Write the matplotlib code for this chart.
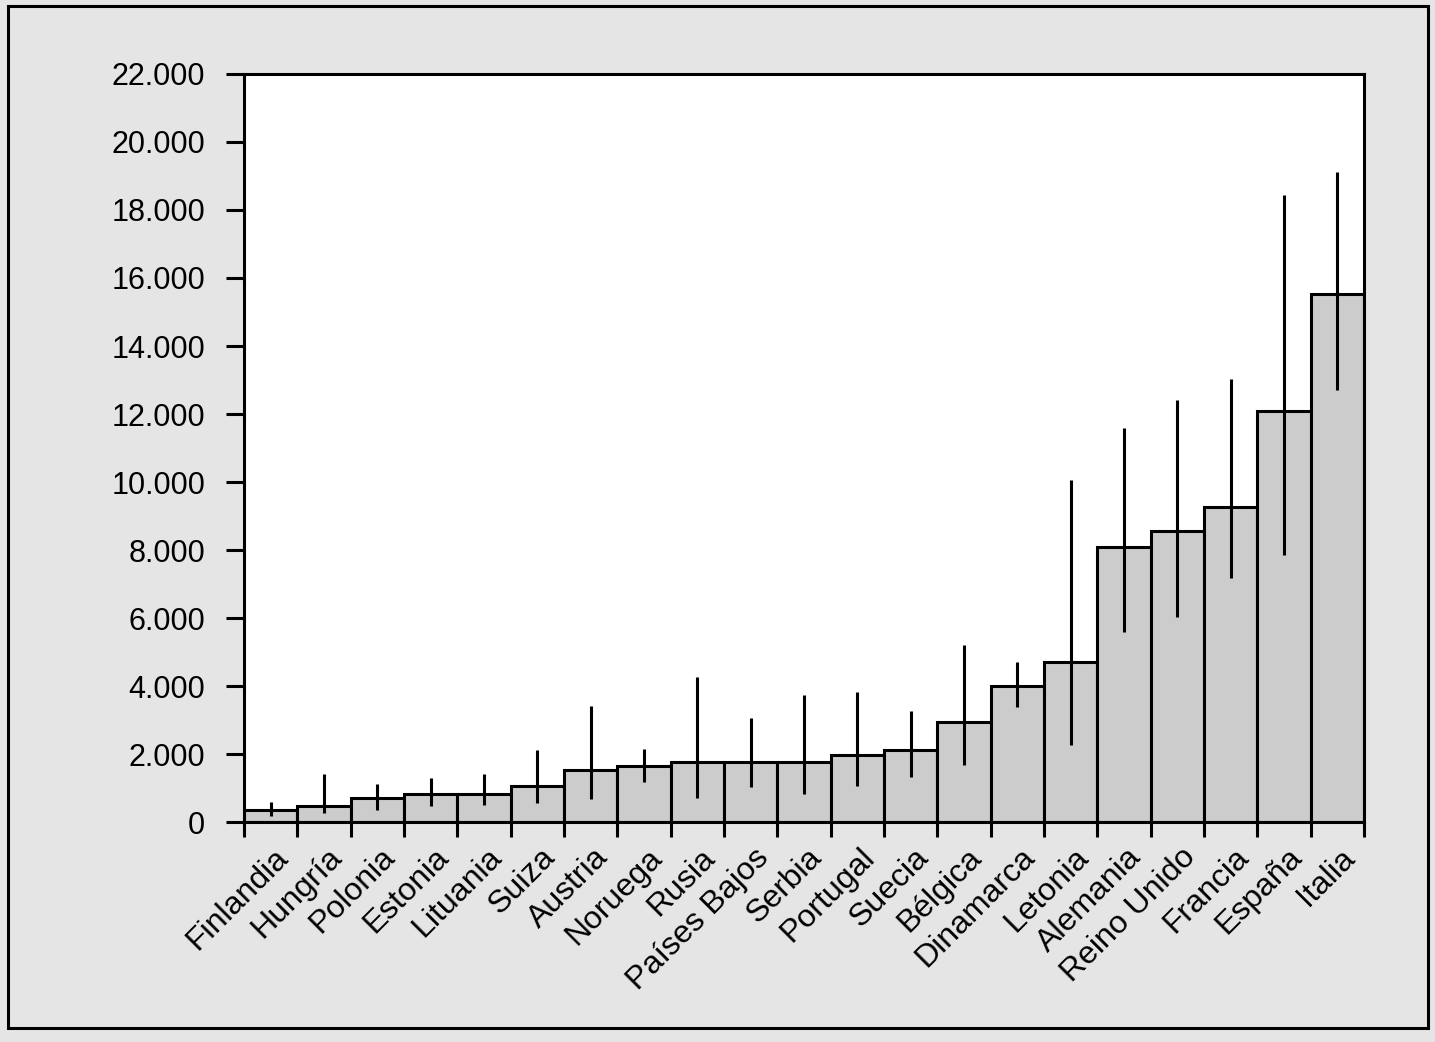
import numpy as np
import matplotlib.pyplot as plt
from matplotlib.ticker import FuncFormatter
from matplotlib.patches import Rectangle

paises = ['Finlandia', 'Hungría', 'Polonia', 'Estonia', 'Lituania', 'Suiza',
          'Austria', 'Noruega', 'Rusia', 'Países Bajos', 'Serbia', 'Portugal',
          'Suecia', 'Bélgica', 'Dinamarca', 'Letonia', 'Alemania',
          'Reino Unido', 'Francia', 'España', 'Italia']
valor = [350, 470, 700, 820, 820, 1060, 1530, 1650, 1760, 1760, 1760, 1970,
         2120, 2940, 4000, 4710, 8090, 8560, 9260, 12090, 15530]
err_alto = [590, 1410, 1120, 1290, 1410, 2120, 3410, 2150, 4260, 3060, 3740,
            3820, 3260, 5200, 4710, 10060, 11590, 12410, 13030, 18440, 19120]
err_bajo = [180, 260, 350, 470, 500, 560, 680, 1180, 710, 1030, 820, 1060,
            1320, 1680, 3380, 2260, 5590, 6030, 7180, 7850, 12700]
yticks = np.arange(0, 22001, 2000)

plt.rcParams['font.family'] = ['Liberation Sans', 'DejaVu Sans']

fig = plt.figure(figsize=(14.35, 10.42), dpi=100, facecolor='#e5e5e5')
fig.patches.append(Rectangle((8 / 1435, 1 - 1028 / 1042), 1420 / 1435, 1022 / 1042,
                             transform=fig.transFigure, fill=False,
                             edgecolor='black', linewidth=2.2))
ax = fig.add_axes([0.170, 0.2111, 0.7805, 0.7179])

x = np.arange(len(paises))
v = np.array(valor)
yerr = [v - np.array(err_bajo), np.array(err_alto) - v]
ax.bar(x, v, width=1.0, color='#cccccc', edgecolor='black', linewidth=2.2, zorder=2)
ax.errorbar(x, v, yerr=yerr, fmt='none', ecolor='black', elinewidth=2.2,
            capsize=0, zorder=3)

ax.set_xlim(-0.5, len(paises) - 0.5)
ax.set_ylim(0, 22000)
ax.set_yticks(yticks)
ax.yaxis.set_major_formatter(FuncFormatter(lambda y, p: f'{int(y):,}'.replace(',', '.')))
ax.tick_params(axis='y', length=13, width=2.2, pad=15, labelsize=22)

ax.set_xticks(np.arange(len(paises) + 1) - 0.5)
ax.set_xticklabels([])
ax.tick_params(axis='x', length=11, width=2.2)
for i, p in enumerate(paises):
    ax.text(i + 0.05, -600, p, rotation=45, ha='right', va='top',
            rotation_mode='anchor', fontsize=23)

for s in ax.spines.values():
    s.set_linewidth(2.2)

fig.savefig('out.png', dpi=100, facecolor=fig.get_facecolor())
